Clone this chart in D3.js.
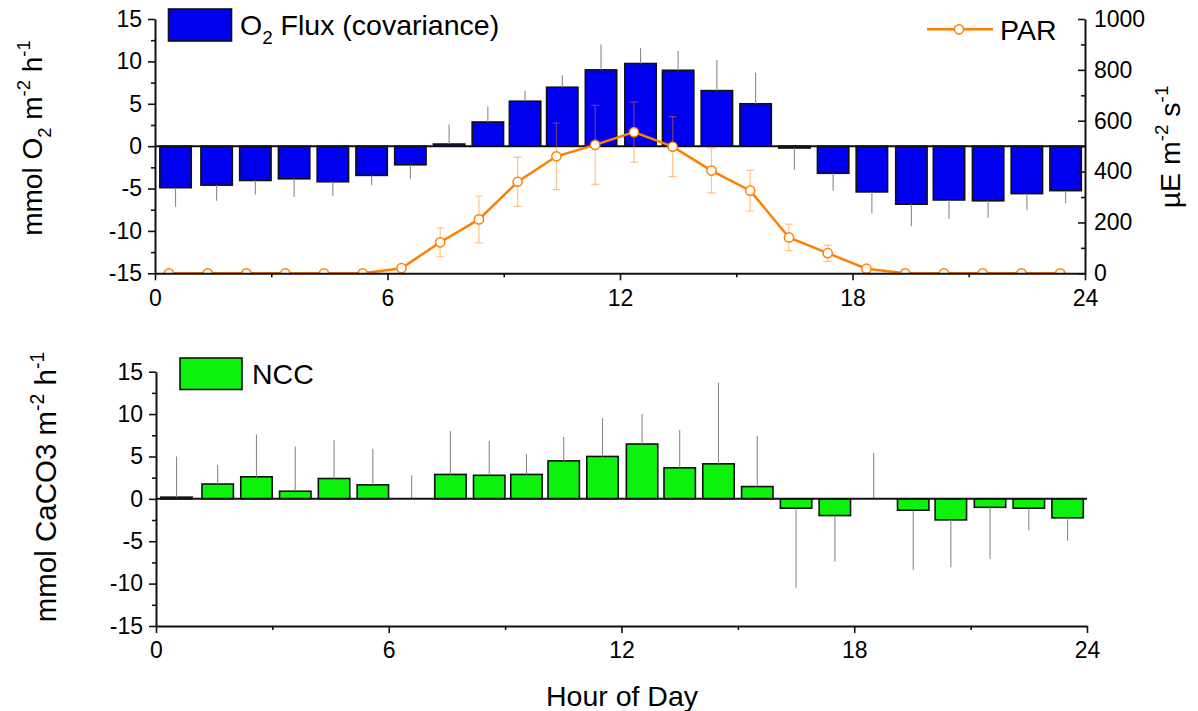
<!DOCTYPE html>
<html><head><meta charset="utf-8">
<script src="https://cdn.jsdelivr.net/npm/d3@7"></script>
<style>
body{margin:0;background:#fff;}
svg text{font-family:"Liberation Sans",Arial,sans-serif;fill:#000;}
</style></head><body>
<svg id="chart" width="1198" height="711"></svg>
<script>
// ---- data ----
const hours = [0.53,1.59,2.59,3.59,4.59,5.59,6.59,7.59,8.59,9.55,10.51,11.51,12.53,13.5,14.5,15.5,16.5,17.5,18.5,19.52,20.49,21.5,22.5,23.5];
const o2Flux = [-4.9,-4.6,-4.05,-3.85,-4.2,-3.45,-2.2,0.25,2.85,5.3,6.95,9.0,9.75,8.95,6.55,5.0,-0.22,-3.2,-5.4,-6.85,-6.35,-6.45,-5.6,-5.25];
const o2Err = [2.25,1.85,1.65,2.15,1.65,1.15,1.65,2.3,1.87,1.25,1.4,3.0,1.82,2.3,3.6,3.65,2.55,2.05,2.55,2.6,2.25,2.0,1.95,1.5];
const parHours = [0.36,1.36,2.36,3.36,4.36,5.36,6.36,7.36,8.36,9.36,10.36,11.36,12.36,13.36,14.36,15.36,16.36,17.36,18.36,19.36,20.36,21.36,22.36,23.36];
const par = [0,0,0,0,0,0,20,122,212,360,460,505,555,498,404,325,141,79,18,0,0,0,0,0];
const parErr = [0,0,0,0,0,0,0,57,92,97,131,155,118,118,88,80,52,32,0,0,0,0,0,0];
const ncc = [0.2,1.75,2.6,0.9,2.4,1.65,0,2.88,2.78,2.88,4.48,5.0,6.47,3.66,4.13,1.45,-1.1,-1.97,0,-1.34,-2.48,-1.0,-1.1,-2.24];
const nccErr = [4.8,2.25,5.0,5.27,4.5,4.25,2.78,5.12,4.04,2.37,2.82,4.53,3.53,4.44,9.57,5.98,9.4,5.43,5.4,7.06,5.58,6.1,2.6,2.71];
const xTicks = [0,6,12,18,24];
const xMinorTicks = [3,9,15,21];
const yTicks = [-15,-10,-5,0,5,10,15];
const yMinorTicks = [-12.5,-7.5,-2.5,2.5,7.5,12.5];
const parTicks = [0,200,400,600,800,1000];
const parMinorTicks = [100,300,500,700,900];

const BLUE = "#0000f0", GREEN = "#0df20d", ORANGE = "#ff8000";
const svg = d3.select("#chart");
const FS = 23, TFS = 28.5;

function rich(sel, parts, size) {
  let cur = 0;
  parts.forEach(p => {
    const target = p.sub ? size*0.32 : p.sup ? -size*0.42 : 0;
    sel.append("tspan").attr("dy", target - cur)
      .attr("font-size", (p.sub||p.sup) ? size*0.66 : size).text(p.t);
    cur = target;
  });
}

function panel(cfg) {
  const x = d3.scaleLinear().domain([0,24]).range([cfg.x0, cfg.x1]);
  const y = d3.scaleLinear().domain([-15,15]).range([cfg.yb, cfg.yt]);
  const g = svg.append("g");
  const bw = x(0.81) - x(0);
  g.selectAll("rect.bar").data(cfg.values).join("rect")
    .attr("x", (d,i) => x(hours[i]) - bw/2)
    .attr("y", d => Math.min(y(d), y(0)))
    .attr("width", bw)
    .attr("height", d => Math.abs(y(d) - y(0)))
    .attr("fill", cfg.color).attr("stroke", "#111").attr("stroke-width", 1.6)
    .attr("display", d => d === 0 ? "none" : null);
  g.selectAll("line.err").data(cfg.values).join("line")
    .attr("x1", (d,i) => x(hours[i])).attr("x2", (d,i) => x(hours[i]))
    .attr("y1", d => y(d))
    .attr("y2", (d,i) => y(d + (d < 0 ? -1 : 1) * cfg.errs[i]))
    .attr("stroke", "#8a8a8a").attr("stroke-width", 1.1);
  g.append("line").attr("x1", x(0)).attr("x2", x(24)).attr("y1", y(0)).attr("y2", y(0))
    .attr("stroke", "#111").attr("stroke-width", 2);
  return {x, y, g};
}

// ---------- top panel ----------
const topP = panel({x0:155, x1:1085, yb:273.3, yt:19, values:o2Flux, errs:o2Err, color:BLUE});
const yR = d3.scaleLinear().domain([0,1000]).range([273.3, 19]);

svg.append("defs").append("clipPath").attr("id","clipTop")
  .append("rect").attr("x",155).attr("y",10).attr("width",930).attr("height",263.3);

const pg = svg.append("g").attr("clip-path","url(#clipTop)");
const pe = pg.append("g").attr("stroke", ORANGE).attr("stroke-opacity", 0.45).attr("stroke-width", 1.2);
par.forEach((v,i) => {
  if (!parErr[i]) return;
  const cx = topP.x(parHours[i]), y1 = yR(v - parErr[i]), y2 = yR(v + parErr[i]);
  pe.append("line").attr("x1",cx).attr("x2",cx).attr("y1",y1).attr("y2",y2);
  pe.append("line").attr("x1",cx-4).attr("x2",cx+4).attr("y1",y1).attr("y2",y1);
  pe.append("line").attr("x1",cx-4).attr("x2",cx+4).attr("y1",y2).attr("y2",y2);
});
const line = d3.line().x((d,i) => topP.x(parHours[i])).y(d => yR(d));
pg.append("path").datum(par).attr("d", line).attr("fill","none")
  .attr("stroke", ORANGE).attr("stroke-width", 2.5);
pg.selectAll("circle").data(par).join("circle")
  .attr("cx", (d,i) => topP.x(parHours[i])).attr("cy", d => yR(d)).attr("r", 4.6)
  .attr("fill", "#fff").attr("stroke", ORANGE).attr("stroke-width", 1.5);

function styleAxis(sel) {
  sel.selectAll("path.domain").attr("stroke","#111").attr("stroke-width",2);
  sel.selectAll(".tick line").attr("stroke","#111").attr("stroke-width",1.6);
  sel.selectAll(".tick text").attr("font-size",FS).attr("font-family","Liberation Sans, Arial, sans-serif").attr("fill","#000");
}
function axesFor(p) {
  const fmt = d => String(d);
  const yb = p.y.range()[0];
  const xl = p.x.range()[0];
  const ax = svg.append("g").attr("transform",`translate(0,${yb})`)
    .call(d3.axisBottom(p.x).tickValues(xTicks).tickFormat(fmt).tickSize(7).tickSizeOuter(0).tickPadding(9));
  styleAxis(ax);
  const axm = svg.append("g").attr("transform",`translate(0,${yb})`)
    .call(d3.axisBottom(p.x).tickValues(xMinorTicks).tickFormat("").tickSize(4).tickSizeOuter(0));
  styleAxis(axm); axm.select("path.domain").remove();
  const ay = svg.append("g").attr("transform",`translate(${xl},0)`)
    .call(d3.axisLeft(p.y).tickValues(yTicks).tickFormat(fmt).tickSize(7).tickSizeOuter(0).tickPadding(6));
  styleAxis(ay);
  const aym = svg.append("g").attr("transform",`translate(${xl},0)`)
    .call(d3.axisLeft(p.y).tickValues(yMinorTicks).tickFormat("").tickSize(4).tickSizeOuter(0));
  styleAxis(aym); aym.select("path.domain").remove();
}
axesFor(topP);
const ar = svg.append("g").attr("transform","translate(1085,0)")
  .call(d3.axisRight(yR).tickValues(parTicks).tickFormat(d => String(d)).tickSize(-7).tickSizeOuter(0).tickPadding(9));
styleAxis(ar);
const arm = svg.append("g").attr("transform","translate(1085,0)")
  .call(d3.axisRight(yR).tickValues(parMinorTicks).tickFormat("").tickSize(-4).tickSizeOuter(0));
styleAxis(arm); arm.select("path.domain").remove();

// top legends
svg.append("rect").attr("x",168.5).attr("y",9).attr("width",63).attr("height",32)
  .attr("fill",BLUE).attr("stroke","#111").attr("stroke-width",1.6);
rich(svg.append("text").attr("x",240).attr("y",35).attr("font-size",TFS),
  [{t:"O"},{t:"2",sub:true},{t:" Flux (covariance)"}], TFS);
svg.append("line").attr("x1",927).attr("x2",993).attr("y1",29.3).attr("y2",29.3)
  .attr("stroke",ORANGE).attr("stroke-width",2.5);
svg.append("circle").attr("cx",959).attr("cy",29.3).attr("r",4.6)
  .attr("fill","#fff").attr("stroke",ORANGE).attr("stroke-width",1.5);
svg.append("text").attr("x",1000).attr("y",39.5).attr("font-size",TFS).text("PAR");

// titles
rich(svg.append("text").attr("transform","translate(42,138) rotate(-90)")
  .attr("text-anchor","middle").attr("font-size",28),
  [{t:"mmol O"},{t:"2",sub:true},{t:" m"},{t:"-2",sup:true},{t:" h"},{t:"-1",sup:true}], 28);
rich(svg.append("text").attr("transform","translate(1180,147) rotate(-90)")
  .attr("text-anchor","middle").attr("font-size",TFS),
  [{t:"µE m"},{t:"-2",sup:true},{t:" s"},{t:"-1",sup:true}], TFS);

// ---------- bottom panel ----------
const botP = panel({x0:156, x1:1087, yb:626, yt:371.7, values:ncc, errs:nccErr, color:GREEN});
axesFor(botP);
svg.append("rect").attr("x",180).attr("y",358).attr("width",62).attr("height",31.5)
  .attr("fill",GREEN).attr("stroke","#111").attr("stroke-width",1.6);
svg.append("text").attr("x",252).attr("y",384).attr("font-size",TFS).text("NCC");
rich(svg.append("text").attr("transform","translate(56,487) rotate(-90)")
  .attr("text-anchor","middle").attr("font-size",29.5),
  [{t:"mmol CaCO3 m"},{t:"-2",sup:true},{t:" h"},{t:"-1",sup:true}], 29.5);
svg.append("text").attr("x",622).attr("y",706).attr("text-anchor","middle")
  .attr("font-size",TFS).text("Hour of Day");
</script>
</body></html>
